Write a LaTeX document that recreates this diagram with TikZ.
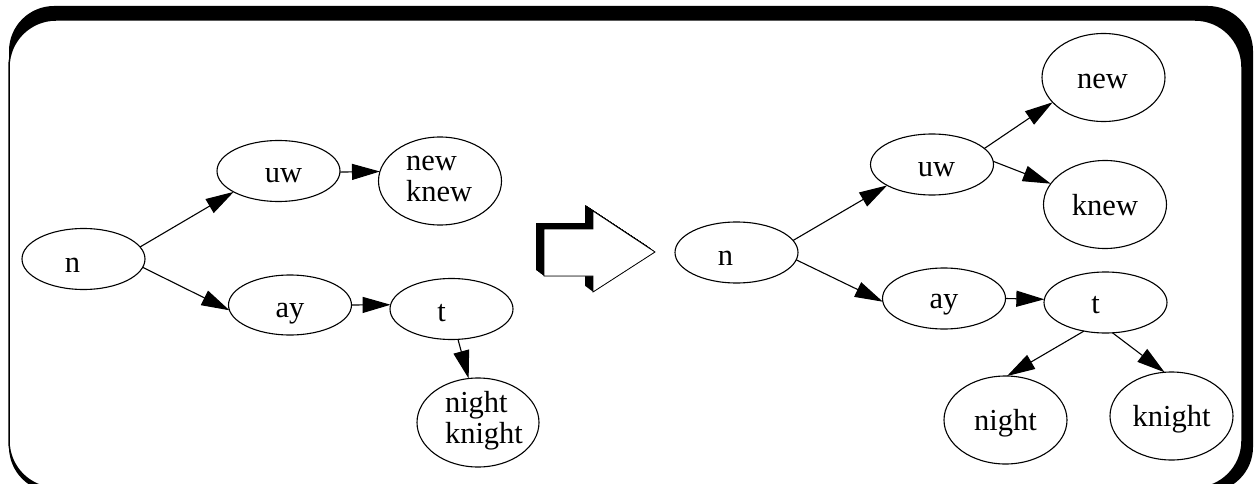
\documentclass[tikz,border=0pt]{standalone}
\usepackage{fontspec}
\setmainfont{Liberation Serif}
\usetikzlibrary{arrows.meta,shapes.geometric}

% centred label: horizontal shift, baseline raise, text
\newcommand\tlabel[3]{\makebox[0pt][l]{\hspace*{#1pt}\raisebox{#2pt}[0pt][0pt]{\makebox[0pt][c]{#3}}}}
% left-aligned block: left edge shift, first baseline raise, lines
\newcommand\tblock[3]{\makebox[0pt][l]{\hspace*{#1pt}\raisebox{#2pt}[0pt][0pt]{\begin{tabular}[t]{@{}l@{}}#3\end{tabular}}}}

\tikzset{
  st/.style={ellipse, draw=black, fill=white, line width=1.1pt, inner sep=0pt, outer sep=0pt,
             font=\fontsize{30.5pt}{31pt}\selectfont},
  small/.style={st, minimum width=123pt, minimum height=61pt},
  big/.style={st, minimum width=123pt, minimum height=88pt},
  edge/.style={-{Triangle[length=28pt,width=16pt]}, line width=1.1pt},
}

\begin{document}
\begin{tikzpicture}[x=1pt, y=-1pt]
\useasboundingbox (0,0) rectangle (1255,484);
\clip (0,0) rectangle (1255,484);

% framed panel with heavy shadow
\fill[black, rounded corners=45pt] (9,6) rectangle (1253,492);
\filldraw[fill=white, draw=black, line width=1.5pt, rounded corners=47pt] (9,20) rectangle (1242,488);

% extruded block arrow
\foreach \k in {0,...,20} {
  \fill[black, shift={(-0.4*\k,-0.3*\k)}]
    (544,229) -- (593,229) -- (593,211) -- (655,252) -- (593,292) -- (593,276) -- (544,276) -- cycle;
}
\filldraw[fill=white, draw=black, line width=0.8pt]
  (544,229) -- (593,229) -- (593,211) -- (655,252) -- (593,292) -- (593,276) -- (544,276) -- cycle;

% left tree
\node[small] (n1)  at (83.5,259)   {\tlabel{-11}{-13}{n}};
\node[small] (uw1) at (278.5,171)  {\tlabel{5}{-12}{uw}};
\node[big]   (nk1) at (440,181)    {\tblock{-34}{11}{new\\knew}};
\node[small, minimum height=60pt] (ay1) at (290,305) {\tlabel{0}{-12}{ay}};
\node[small] (t1)  at (451.5,309)  {\tlabel{-10}{-12}{t}};
\node[big, minimum width=122pt, minimum height=89pt] (ni1) at (478,422.5) {\tblock{-33}{10}{night\\knight}};

\draw[edge] (n1.12.6) -- (uw1.205.4);
\draw[edge] (n1.352) -- (ay1.185.4);
\draw[edge] (uw1.359) -- (nk1.171.5);
\draw[edge] (ay1.0) -- (t1.176.3);
\draw[edge] (t1.282.4) -- (ni1.102);

% right tree
\node[small] (n2)      at (736.5,252.5) {\tlabel{-11}{-12.5}{n}};
\node[small] (uw2)     at (932,164.5)   {\tlabel{4.5}{-11.5}{uw}};
\node[big]   (new2)    at (1103.5,77.5) {\tlabel{-1}{-11}{new}};
\node[big]   (knew2)   at (1105,204.5)  {\tlabel{0}{-10.5}{knew}};
\node[small] (ay2)     at (944,298.5)   {\tlabel{0}{-10}{ay}};
\node[small] (t2)      at (1105.5,302.5){\tlabel{-10}{-11}{t}};
\node[big]   (night2)  at (1005.5,420)  {\tlabel{0}{-10}{night}};
\node[big]   (knight2) at (1171.5,416)  {\tlabel{0}{-10.5}{knight}};

\draw[edge] (n2.12.8) -- (uw2.205.6);
\draw[edge] (n2.353.4) -- (ay2.183.7);
\draw[edge] (uw2.17.5) -- (new2.206.3);
\draw[edge] (uw2.3.9) -- (knew2.159.3);
\draw[edge] (ay2.0) -- (t2.177.6);
\draw[edge] (t2.233.6) -- (night2.88);
\draw[edge] (t2.283.8) -- (knight2.99.8);
\end{tikzpicture}
\end{document}
